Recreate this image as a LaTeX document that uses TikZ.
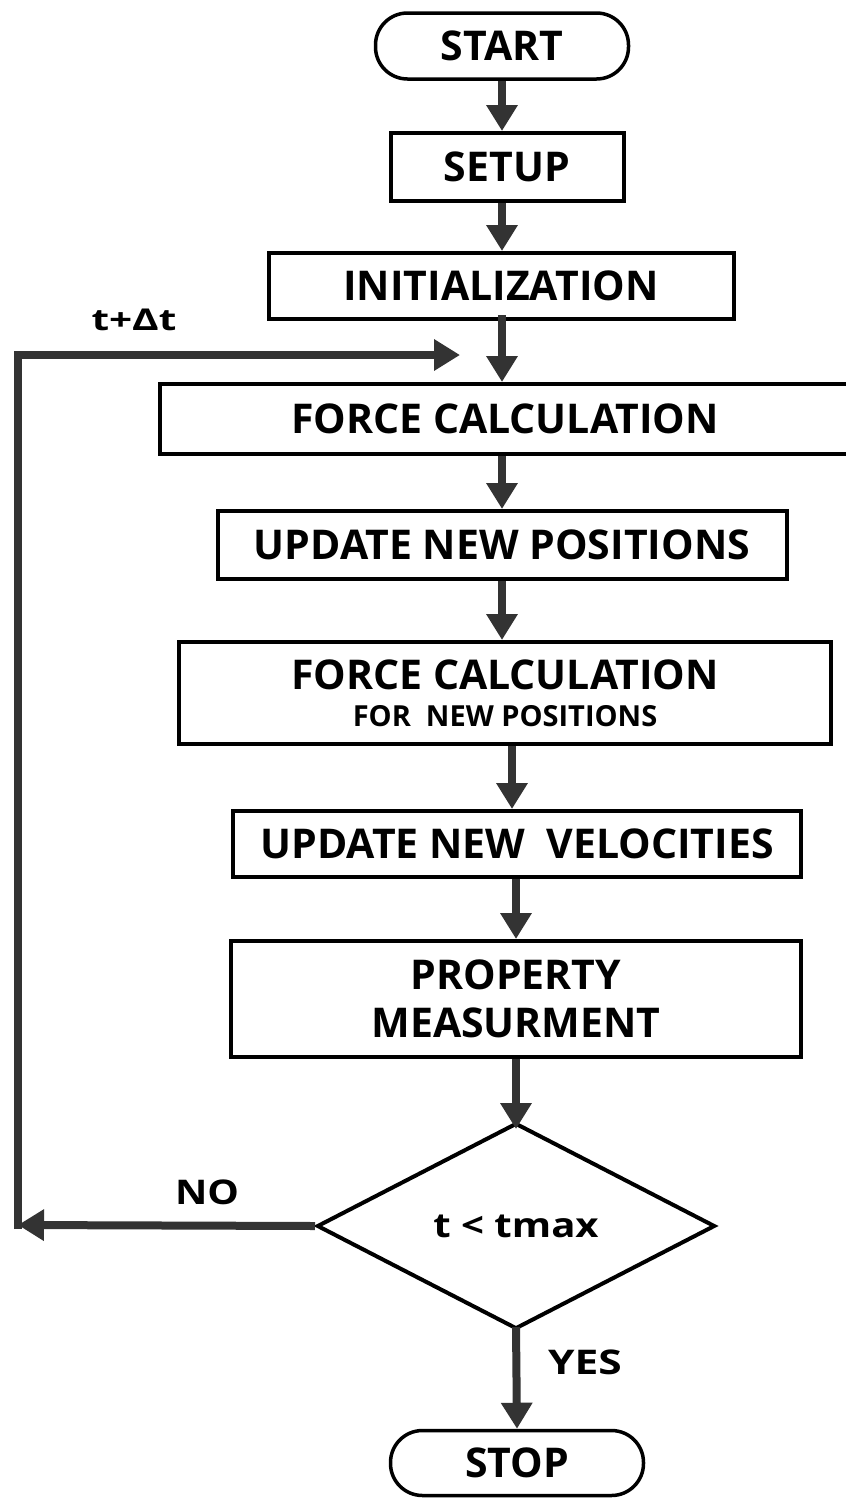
\documentclass[tikz,border=0pt]{standalone}
\usepackage{fontspec}
\usepackage{graphicx}
\setmainfont{Open Sans}
\usetikzlibrary{arrows.meta,shapes.geometric}
\definecolor{arrowgray}{HTML}{333333}
\begin{document}
\begin{tikzpicture}[x=1pt,y=-1pt,
  every node/.style={font=\bfseries\fontsize{41}{48}\selectfont, inner sep=0pt, text=black},
  box/.style={draw=black, line width=4pt, rectangle},
  pill/.style={draw=black, line width=3.5pt, rectangle, rounded corners=32pt},
  decision/.style={draw=black, line width=4pt, diamond},
  flow/.style={line width=8pt, draw=arrowgray, -{Triangle[width=30pt,length=26pt]}},
  plainline/.style={line width=8pt, draw=arrowgray},
  lbl/.style={font=\bfseries\fontsize{34}{40}\selectfont}
]
\clip (0,0) rectangle (846,1500);
\fill[white] (0,0) rectangle (846,1500);

\node[pill, minimum width=253pt, minimum height=66pt] (start) at (502,46) {START};
\node[box, minimum width=233pt, minimum height=68pt] (setup) at (507,167) {SETUP};
\node[box, minimum width=465pt, minimum height=66pt] (init) at (501,286) {INITIALIZATION};
\node[box, minimum width=690pt, minimum height=70pt] (force) at (505,419) {FORCE CALCULATION};
\node[box, minimum width=569pt, minimum height=68pt] (upos) at (502,545) {UPDATE NEW POSITIONS};
\node[box, minimum width=652pt, minimum height=102pt, align=center] (fnew) at (505,693)
  {FORCE CALCULATION\\[-11pt]{\fontsize{29}{34}\selectfont FOR\ \ NEW POSITIONS}};
\node[box, minimum width=568pt, minimum height=66pt] (uvel) at (517,844) {UPDATE NEW\ \ VELOCITIES};
\node[box, minimum width=570pt, minimum height=116pt, align=center] (prop) at (516,999)
  {PROPERTY\\MEASURMENT};
\node[decision, minimum width=398pt, minimum height=206pt] (dec) at (516,1226)
  {\fontsize{34}{40}\selectfont\scalebox{1.18}[1]{t < tmax}};
\node[pill, minimum width=253pt, minimum height=65pt] (stop) at (517,1463) {STOP};

\coordinate (noend) at (18,1225);
\coordinate (loopbot) at (18,1229);
\coordinate (looptop) at (18,355);
\coordinate (loopstart) at (14,355);
\coordinate (loopend) at (460,355);
\coordinate (cx) at (512,0);

\draw[flow] (start.south) -- (start.south |- setup.north);
\draw[flow] (setup.south -| start.south) -- (start.south |- init.north);
\draw[flow] ([yshift=6pt]init.south -| start.south) -- (start.south |- force.north);
\draw[flow] (force.south -| start.south) -- (start.south |- upos.north);
\draw[flow] (upos.south -| start.south) -- (start.south |- fnew.north);
\draw[flow] (fnew.south -| cx) -- (uvel.north -| cx);
\draw[flow] (uvel.south -| dec.north) -- (dec.north |- prop.north);
\draw[flow] (prop.south -| dec.north) -- ([yshift=-8pt]dec.north);
\draw[flow] ([yshift=4pt]dec.south) -- (stop.north);

\draw[flow] (dec.west) -- (noend);
\draw[plainline] (loopbot) -- (looptop);
\draw[flow] (loopstart) -- (loopend);

\node[lbl, font=\bfseries\fontsize{30}{36}\selectfont] (tdt) at (134,320) {\scalebox{1.35}[1]{t+Δt}};
\node[lbl] (no) at (207,1192) {\scalebox{1.17}[1]{NO}};
\node[lbl] (yes) at (585,1362) {\scalebox{1.25}[1]{YES}};
\end{tikzpicture}
\end{document}
